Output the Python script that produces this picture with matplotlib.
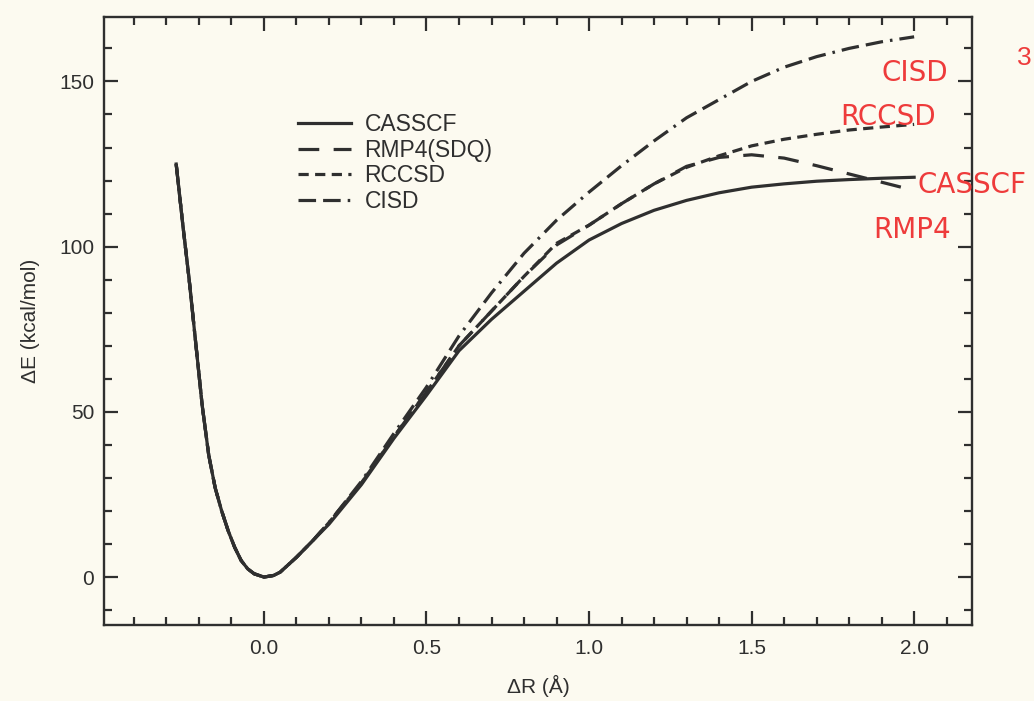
import matplotlib
matplotlib.use("Agg")
import matplotlib.pyplot as plt
from matplotlib.ticker import MultipleLocator

plt.rcParams['font.family'] = ['Liberation Sans', 'DejaVu Sans']

# bond stretch (Angstrom) and relative energies (kcal/mol)
dR = [-0.27, -0.25, -0.23, -0.21, -0.19, -0.17, -0.15, -0.13, -0.11, -0.09,
      -0.07, -0.05, -0.03, 0.0, 0.03, 0.05, 0.1, 0.15, 0.2, 0.3, 0.4, 0.5,
      0.6, 0.7, 0.8, 0.9, 1.0, 1.1, 1.2, 1.3, 1.4, 1.5, 1.6, 1.7, 1.8, 1.9, 2.0]

casscf = [125, 107, 90, 71, 52, 37, 27, 20, 14, 9,
          5, 2.5, 1, 0, 0.5, 1.5, 6, 11, 16, 28, 42, 55,
          68.5, 78, 86.5, 95, 102, 107, 111, 114, 116.3, 118, 119, 119.8, 120.3, 120.7, 121]
rmp4 = [125, 107, 90, 71, 52, 37, 27, 20, 14, 9,
        5, 2.5, 1, 0, 0.5, 1.5, 6, 11, 16.5, 28.5, 42.5, 56,
        70, 80.5, 91, 100.5, 106.5, 113, 119, 124.3, 127, 127.8, 126.8, 124.5, 122, 119.5, 117]
rccsd = [125, 107, 90, 71, 52, 37, 27, 20, 14, 9,
         5, 2.5, 1, 0, 0.5, 1.5, 6, 11, 16.5, 28.5, 42.5, 56,
         70, 80.5, 91, 101, 106.5, 113, 119, 124, 127.5, 130.5, 132.5, 134, 135.3, 136.2, 137]
cisd = [125, 107, 90, 71, 52, 37, 27, 20, 14, 9,
        5, 2.5, 1, 0, 0.5, 1.5, 6, 11, 16.5, 29, 43.5, 57.5,
        73, 86, 98, 108, 116.5, 124.5, 132, 139, 144.5, 150, 154.3, 157.5, 160, 162, 163.5]

methods = ['CASSCF', 'RMP4(SDQ)', 'RCCSD', 'CISD']
# handwritten notes next to the curve ends
notes = ['CISD', 'RCCSD', 'CASSCF', 'RMP4']

ink = '#2f2f2f'
paper = '#fcfaf0'
red = '#ee3b3b'

fig = plt.figure(figsize=(10.34, 7.01), dpi=100, facecolor=paper)
ax = fig.add_axes([104 / 1034, 1 - 625 / 701, 868 / 1034, 608 / 701])
ax.set_facecolor(paper)

lw = 2.3
ax.plot(dR, casscf, color=ink, lw=lw, ls='-', label=methods[0])
ax.plot(dR, rmp4, color=ink, lw=lw, ls=(0, (6.5, 4.5)), label=methods[1])
ax.plot(dR, rccsd, color=ink, lw=lw, ls=(0, (3.2, 2.0)), label=methods[2])
ax.plot(dR, cisd, color=ink, lw=lw, ls=(0, (5.5, 2.2, 5.5, 2.2, 0.8, 2.2)), label=methods[3])

ax.set_xlim(-0.492, 2.178)
ax.set_ylim(-14.5, 169.5)

ax.xaxis.set_major_locator(MultipleLocator(0.5))
ax.xaxis.set_minor_locator(MultipleLocator(0.1))
ax.yaxis.set_major_locator(MultipleLocator(50))
ax.yaxis.set_minor_locator(MultipleLocator(10))
ax.xaxis.set_major_formatter(plt.FuncFormatter(lambda v, p: f'{v:.1f}'))

ax.tick_params(which='both', direction='in', top=True, right=True,
               color=ink, width=1.6, labelcolor=ink, labelsize=15)
ax.tick_params(which='major', length=10)
ax.tick_params(which='minor', length=5.5)
ax.tick_params(axis='x', pad=10)
ax.tick_params(axis='y', pad=7)
for s in ax.spines.values():
    s.set_color(ink)
    s.set_linewidth(1.7)

ax.set_xlabel('ΔR (Å)', fontsize=15, color=ink, labelpad=12)
ax.set_ylabel('ΔE (kcal/mol)', fontsize=15, color=ink, labelpad=14)

leg = ax.legend(loc='upper left', bbox_to_anchor=(298 / 1034, 1 - 113 / 701),
                bbox_transform=fig.transFigure, frameon=False, fontsize=16.5,
                handlelength=2.3, handletextpad=0.6, labelspacing=0.12,
                borderpad=0, borderaxespad=0)
for t in leg.get_texts():
    t.set_color(ink)

# red pen notes
note_pos = [(915, 73), (888, 117), (972, 185), (912, 230)]
for txt, (px, py) in zip(notes, note_pos):
    fig.text(px / 1034, 1 - py / 701, txt, color=red, fontsize=20,
             ha='center', va='center', family=['DejaVu Sans'])
fig.text(1017 / 1034, 1 - 58 / 701, '3', color=red, fontsize=19,
         ha='left', va='center')

fig.savefig('out.png', dpi=100, facecolor=paper)
